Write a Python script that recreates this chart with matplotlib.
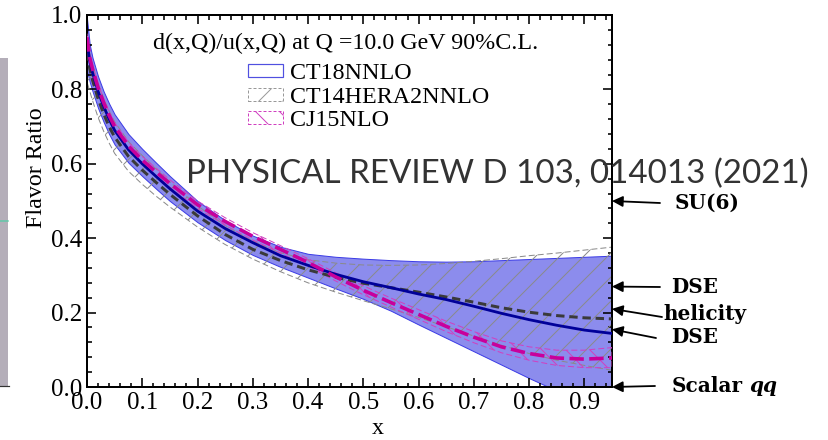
import numpy as np
import matplotlib
matplotlib.use('Agg')
import matplotlib.pyplot as plt
from matplotlib.patches import Patch, Rectangle
from matplotlib.ticker import MultipleLocator

plt.rcParams['font.family'] = ['Liberation Serif', 'DejaVu Serif']
plt.rcParams['hatch.linewidth'] = 1.0

# x grid and curves
x = [0.0, 0.005, 0.01, 0.02, 0.03, 0.04, 0.05, 0.075, 0.1, 0.125, 0.15, 0.2, 0.25, 0.3, 0.35,
     0.4, 0.45, 0.5, 0.55, 0.6, 0.65, 0.7, 0.75, 0.8, 0.85, 0.9, 0.95]

ct18_mid = [0.93, 0.875, 0.845, 0.795, 0.755, 0.72, 0.69, 0.638, 0.600, 0.566, 0.533, 0.473, 0.426,
            0.388, 0.353, 0.327, 0.303, 0.283, 0.267, 0.25, 0.235, 0.217, 0.198, 0.181, 0.166,
            0.153, 0.144]
ct18_hi = [0.99, 0.92, 0.885, 0.835, 0.795, 0.762, 0.733, 0.68, 0.64, 0.603, 0.567, 0.50, 0.448,
           0.407, 0.377, 0.358, 0.35, 0.345, 0.341, 0.338, 0.337, 0.338, 0.341, 0.344, 0.347,
           0.35, 0.353]
ct18_lo = [0.85, 0.82, 0.795, 0.75, 0.713, 0.68, 0.652, 0.603, 0.567, 0.533, 0.50, 0.443, 0.395,
           0.355, 0.323, 0.294, 0.265, 0.237, 0.205, 0.168, 0.132, 0.096, 0.06, 0.024, -0.01,
           -0.04, -0.07]

ct14_mid = [0.90, 0.855, 0.825, 0.775, 0.735, 0.70, 0.672, 0.62, 0.583, 0.55, 0.518, 0.46, 0.41,
            0.37, 0.34, 0.315, 0.295, 0.279, 0.267, 0.255, 0.242, 0.228, 0.213, 0.201, 0.192,
            0.186, 0.183]
ct14_hi = [0.96, 0.895, 0.865, 0.815, 0.776, 0.742, 0.713, 0.66, 0.622, 0.586, 0.551, 0.487, 0.434,
           0.392, 0.361, 0.342, 0.333, 0.328, 0.327, 0.328, 0.332, 0.338, 0.345, 0.353, 0.36,
           0.368, 0.376]
ct14_lo = [0.82, 0.795, 0.77, 0.725, 0.688, 0.656, 0.628, 0.58, 0.545, 0.513, 0.484, 0.43, 0.383,
           0.344, 0.31, 0.28, 0.255, 0.232, 0.21, 0.187, 0.162, 0.137, 0.112, 0.09, 0.072,
           0.058, 0.045]

cj15_mid = [0.94, 0.885, 0.855, 0.805, 0.765, 0.73, 0.70, 0.648, 0.61, 0.578, 0.547, 0.49, 0.445,
            0.405, 0.37, 0.335, 0.296, 0.26, 0.227, 0.195, 0.163, 0.134, 0.108, 0.09, 0.078,
            0.075, 0.078]
cj15_hi = [0.95, 0.895, 0.865, 0.815, 0.775, 0.74, 0.71, 0.658, 0.62, 0.588, 0.557, 0.50, 0.455,
           0.415, 0.38, 0.345, 0.307, 0.272, 0.239, 0.208, 0.177, 0.149, 0.124, 0.108, 0.099,
           0.099, 0.106]
cj15_lo = [0.93, 0.875, 0.845, 0.795, 0.755, 0.72, 0.69, 0.638, 0.60, 0.568, 0.537, 0.48, 0.435,
           0.395, 0.36, 0.325, 0.285, 0.248, 0.215, 0.182, 0.149, 0.119, 0.092, 0.072, 0.058,
           0.052, 0.052]

# model predictions marked on the right axis
model_names = ['SU(6)', 'DSE', 'helicity', 'DSE', 'Scalar']
model_vals = [0.5, 0.27, 0.21, 0.155, 0.0]

W, H = 828, 440
fig = plt.figure(figsize=(W / 72, H / 72), dpi=72)
ax = fig.add_axes([87 / W, 53 / H, 525 / W, 372 / H])

# piece of a neighbouring figure at the left edge
fig.patches.append(Rectangle((0, 53 / H), 8 / W, (387 - 58) / H, transform=fig.transFigure,
                             facecolor='#b4aeb9', edgecolor='none', zorder=0))
fig.lines.append(plt.Line2D([0, 8 / W], [1 - 221 / H] * 2, transform=fig.transFigure,
                            color='#60c8a8', lw=1.5))
fig.lines.append(plt.Line2D([0, 9 / W], [1 - 386 / H] * 2, transform=fig.transFigure,
                            color='#333333', lw=1.2))

ax.fill_between(x, ct18_lo, ct18_hi, facecolor='#8c8ced', edgecolor='#3c3ce6', lw=1.0, zorder=1)
ax.fill_between(x, ct14_lo, ct14_hi, facecolor='none', edgecolor='#8a8a8a', hatch='/',
                lw=1.0, linestyle=(0, (6, 3)), zorder=2)
ax.fill_between(x, cj15_lo, cj15_hi, facecolor='none', edgecolor='#d040c0', hatch='\\',
                lw=1.0, linestyle=(0, (6, 3)), zorder=3)

ax.plot(x, ct18_mid, color='#000099', lw=2.8, zorder=5)
ax.plot(x, ct14_mid, color='#3a3a3a', lw=3.0, linestyle=(0, (2.8, 1.6)), zorder=4)
ax.plot(x, cj15_mid, color='#c8009c', lw=3.6, linestyle=(0, (4, 1.5)), zorder=6)

ax.set_xlim(0, 0.95)
ax.set_ylim(0, 1.0)
ax.xaxis.set_major_locator(MultipleLocator(0.1))
ax.xaxis.set_minor_locator(MultipleLocator(0.02))
ax.yaxis.set_major_locator(MultipleLocator(0.2))
ax.yaxis.set_minor_locator(MultipleLocator(0.04))
ax.xaxis.set_major_formatter(lambda v, p: f'{v:.1f}')
ax.yaxis.set_major_formatter(lambda v, p: f'{v:.1f}')
ax.tick_params(which='both', direction='in', top=True, right=True, labelsize=25, width=1.6)
ax.tick_params(which='major', length=9, pad=5)
ax.tick_params(which='minor', length=4.5)
for s in ax.spines.values():
    s.set_linewidth(2.0)

ax.set_xlabel('x', fontsize=24)
ax.xaxis.set_label_coords((378 - 87) / 525, -0.082)
ax.set_ylabel('Flavor Ratio', fontsize=24)
ax.yaxis.set_label_coords(-0.076, 0.59)

# legend: title line centred, entries offset to the right as in the reference
fig.text(346 / W, 1 - 43 / H, 'd(x,Q)/u(x,Q) at Q =10.0 GeV 90%C.L.', fontsize=24,
         ha='center', va='center')
handles = [Patch(facecolor='none', edgecolor='#5050e0', lw=1.2),
           Patch(facecolor='none', edgecolor='#999999', hatch='/', lw=1.0, linestyle=(0, (3, 2))),
           Patch(facecolor='none', edgecolor='#d040c0', hatch='\\', lw=1.0, linestyle=(0, (3, 2)))]
leg = ax.legend(handles, ['CT18NNLO', 'CT14HERA2NNLO', 'CJ15NLO'], fontsize=24,
                frameon=False, loc='upper left', bbox_to_anchor=(248 / W, 1 - 63 / H),
                bbox_transform=fig.transFigure, handlelength=1.45, handleheight=0.45,
                handletextpad=0.3, labelspacing=0.11, borderpad=0, borderaxespad=0)

# journal reference stamped over the figure
pr = fig.text(186 / W, 1 - 183 / H, 'PHYSICAL REVIEW D 103, 014013 (2021)', family='Lato',
              fontsize=34, color='#333333', ha='left', va='baseline')
fig.canvas.draw()
bb = pr.get_window_extent()
pr.set_fontsize(34 * 622 / bb.width)

# arrows to the model values on the right axis
tails = [(660, 203), (660, 287), (662, 317), (656, 338), (655, 386)]
labels_pos = [(675, 203), (671, 287), (663, 314), (671, 337), (672, 386)]
for name, val, (tx, ty), (lx, ly) in zip(model_names, model_vals, tails, labels_pos):
    ax.annotate('', xy=(0.95, val), xycoords='data', xytext=(tx, H - ty),
                textcoords='figure pixels', annotation_clip=False,
                arrowprops=dict(arrowstyle='-|>', color='black', lw=1.8, mutation_scale=22,
                                shrinkA=0, shrinkB=0))
    t = fig.text(lx / W, 1 - ly / H, name, family='DejaVu Serif', fontsize=20,
                 fontweight='bold', ha='left', va='center')
    if name == 'Scalar':
        fig.canvas.draw()
        e = t.get_window_extent()
        fig.text((e.x1 + 6) / W, 1 - ly / H, 'qq', family='DejaVu Serif', fontsize=20,
                 fontweight='bold', style='italic', ha='left', va='center')

fig.savefig('out.png', dpi=72)
